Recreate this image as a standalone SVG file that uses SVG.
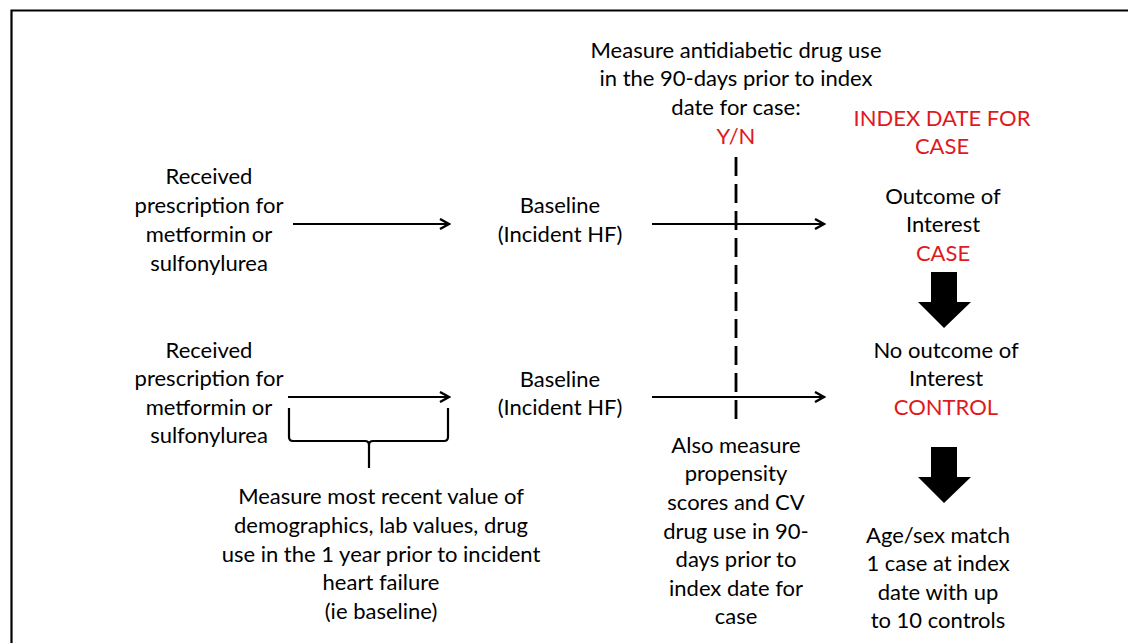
<svg xmlns="http://www.w3.org/2000/svg" width="1128" height="643" viewBox="0 0 1128 643">
<defs>
<style>
text{font-family:Lato,"Open Sans","Liberation Sans",sans-serif;font-size:22px;fill:#000;text-anchor:middle}
.red{fill:#e0191e}
.ln{stroke:#000;stroke-width:2.2;fill:none}
.blk{fill:#000}
</style>
<marker id="ah" viewBox="0 0 12 12" refX="10" refY="6" markerWidth="12" markerHeight="12" markerUnits="userSpaceOnUse" orient="auto">
<path d="M1,1 L10,6 L1,11" fill="none" stroke="#000" stroke-width="2.4"/>
</marker>
</defs>
<rect width="1128" height="643" fill="#fff"/>
<path d="M11.5,643 V10.5 H1128" fill="none" stroke="#000" stroke-width="2.2"/>

<g id="measure-top">
<text x="736" y="58">Measure antidiabetic drug use</text>
<text x="736" y="86">in the 90-days prior to index</text>
<text x="736" y="115">date for case:</text>
<text x="736" y="144" class="red">Y/N</text>
</g>
<g id="index-date">
<text x="942" y="126" class="red">INDEX DATE FOR</text>
<text x="942" y="154" class="red">CASE</text>
</g>
<g id="rx-case">
<text x="209" y="184">Received</text>
<text x="209" y="213">prescription for</text>
<text x="209" y="242">metformin or</text>
<text x="209" y="271">sulfonylurea</text>
</g>
<g id="baseline-case">
<text x="560" y="213">Baseline</text>
<text x="560" y="242">(Incident HF)</text>
</g>
<g id="outcome-case">
<text x="943" y="204">Outcome of</text>
<text x="943" y="232">Interest</text>
<text x="943" y="261" class="red">CASE</text>
</g>
<g id="rx-control">
<text x="209" y="358">Received</text>
<text x="209" y="386">prescription for</text>
<text x="209" y="415">metformin or</text>
<text x="209" y="443">sulfonylurea</text>
</g>
<g id="baseline-control">
<text x="560" y="387">Baseline</text>
<text x="560" y="415">(Incident HF)</text>
</g>
<g id="outcome-control">
<text x="946" y="358">No outcome of</text>
<text x="946" y="386">Interest</text>
<text x="946" y="415" class="red">CONTROL</text>
</g>
<g id="baseline-note">
<text x="381" y="504">Measure most recent value of</text>
<text x="381" y="533">demographics, lab values, drug</text>
<text x="381" y="562">use in the 1 year prior to incident</text>
<text x="381" y="590">heart failure</text>
<text x="381" y="619">(ie baseline)</text>
</g>
<g id="propensity-note">
<text x="736" y="453">Also measure</text>
<text x="736" y="481">propensity</text>
<text x="736" y="510">scores and CV</text>
<text x="736" y="539">drug use in 90-</text>
<text x="736" y="567">days prior to</text>
<text x="736" y="596">index date for</text>
<text x="736" y="624">case</text>
</g>
<g id="match-note">
<text x="938" y="543">Age/sex match</text>
<text x="938" y="571">1 case at index</text>
<text x="938" y="600">date with up</text>
<text x="938" y="628">to 10 controls</text>
</g>

<g id="connectors">
<line class="ln" x1="293" y1="224" x2="449" y2="224" marker-end="url(#ah)"/>
<line class="ln" x1="652" y1="224" x2="824" y2="224" marker-end="url(#ah)"/>
<line class="ln" x1="288" y1="397" x2="449" y2="397" marker-end="url(#ah)"/>
<line class="ln" x1="652" y1="397" x2="824" y2="397" marker-end="url(#ah)"/>
<line x1="736" y1="157" x2="736" y2="425" stroke="#000" stroke-width="2.8" stroke-dasharray="19 8"/>
<path class="ln" stroke-width="3.2" d="M289,408 V437 Q289,441 293,441 H365 Q369,441 369,445 V468 M369,445 Q369,441 373,441 H444 Q448,441 448,437 V408"/>
<polygon class="blk" points="931,272 957,272 957,302 971,302 944,328 918,302 931,302"/>
<polygon class="blk" points="931,447 957,447 957,477 971,477 944,503 918,477 931,477"/>
</g>
</svg>
